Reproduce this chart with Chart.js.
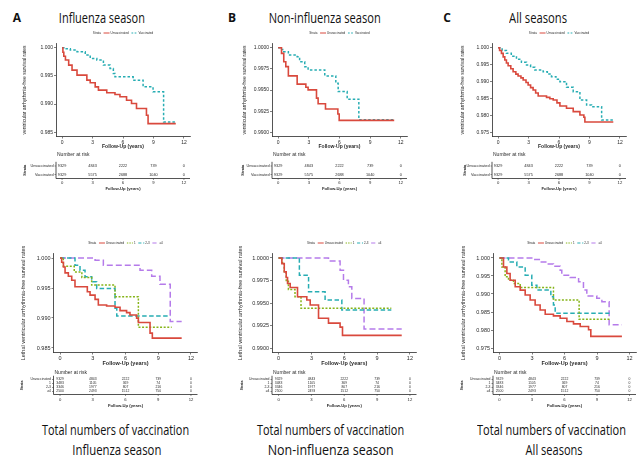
<!DOCTYPE html>
<html>
<head>
<meta charset="utf-8">
<script src="https://cdn.jsdelivr.net/npm/chart.js@4.4.1/dist/chart.umd.min.js"></script>
<style>
  html, body { margin: 0; padding: 0; background: #fff; }
  body { width: 641px; height: 457px; position: relative; overflow: hidden; }
  canvas { position: absolute; }
  .txt { position: absolute; white-space: nowrap; color: #111; font-family: "Open Sans", "Noto Sans", sans-serif;
         transform-origin: center center; line-height: 1; }
  .letter { font-weight: bold; font-size: 12px; }
  .head { font-size: 14px; }
</style>
</head>
<body>
<div class="txt letter" data-x="17" data-y="18">A</div>
<div class="txt head fit" data-x="102" data-y="18" data-w="86">Influenza season</div>
<div class="txt letter" data-x="232" data-y="18">B</div>
<div class="txt head fit" data-x="325" data-y="18" data-w="112">Non-influenza season</div>
<div class="txt letter" data-x="447" data-y="18">C</div>
<div class="txt head fit" data-x="538" data-y="18" data-w="58">All seasons</div>

<div class="txt head fit" data-x="116" data-y="430" data-w="147">Total numbers of vaccination</div>
<div class="txt head fit" data-x="117" data-y="450" data-w="89">Influenza season</div>
<div class="txt head fit" data-x="331" data-y="430" data-w="147">Total numbers of vaccination</div>
<div class="txt head fit" data-x="331" data-y="450" data-w="126">Non-influenza season</div>
<div class="txt head fit" data-x="552" data-y="430" data-w="149">Total numbers of vaccination</div>
<div class="txt head fit" data-x="554" data-y="450" data-w="57">All seasons</div>

<canvas id="pA"></canvas>
<canvas id="pB"></canvas>
<canvas id="pC"></canvas>
<canvas id="pD"></canvas>
<canvas id="pE"></canvas>
<canvas id="pF"></canvas>

<script>
// ---- data ----
const xTicks = [0, 3, 6, 9, 12];
const riskTimes = [0, 3, 6, 9, 12];

const yTicksFlu = [0.985, 0.990, 0.995, 1.000];
const yTicksNon = [0.9900, 0.9925, 0.9950, 0.9975, 1.0000];
const yTicksAll = [0.975, 0.980, 0.985, 0.990, 0.995, 1.000];

const strataTop = ['Unvaccinated', 'Vaccinated'];
const strataBot = ['Unvaccinated', '1', '2-3', '\u22654'];

const riskUnvac = [9329, 4843, 2222, 739, 0];
const riskVac = [9329, 5575, 2688, 1040, 0];
const risk1 = [3483, 1105, 369, 74, 0];
const risk23 = [3346, 1977, 807, 216, 0];
const risk4 = [2500, 2493, 1512, 750, 0];

// [years, survival]
const fluUnvac = [[0,1],[0.08,0.9992],[0.17,0.9985],[0.33,0.99781],[0.65,0.99692],[0.98,0.99603],[1.47,0.99514],[2.44,0.99425],[2.77,0.99378],[3.26,0.99306],[3.58,0.99247],[4.40,0.99200],[5.21,0.99170],[5.70,0.99129],[6.35,0.99069],[6.84,0.99010],[7.33,0.98921],[8.31,0.98803],[8.47,0.98654],[11.2,0.98654]];
const fluVac = [[0,1],[0.3,0.9998],[0.81,0.99959],[1.47,0.99929],[2.28,0.99870],[2.77,0.99810],[3.42,0.99781],[4.07,0.99692],[4.72,0.99632],[5.05,0.99544],[5.21,0.99484],[7.0,0.99425],[7.98,0.99306],[8.96,0.99218],[10.0,0.98684],[11.2,0.98684]];
const nonUnvac = [[0,1],[0.33,0.99933],[0.55,0.99835],[0.75,0.99776],[1.0,0.99667],[1.86,0.99569],[2.71,0.99533],[2.93,0.99502],[3.75,0.99404],[3.91,0.99337],[4.63,0.99275],[5.84,0.99216],[5.97,0.99141],[11.35,0.99141]];
const nonVac = [[0,1],[0.26,0.9998],[0.55,0.99953],[1.0,0.99914],[1.86,0.99894],[2.1,0.99835],[2.6,0.99776],[2.93,0.99737],[4.56,0.99667],[5.64,0.9958],[5.87,0.99482],[6.75,0.99392],[7.89,0.99149],[11.35,0.99149]];
const allUnvac = [[0,1],[0.15,0.9992],[0.33,0.99833],[0.5,0.9973],[0.66,0.99636],[0.82,0.9955],[0.99,0.99469],[1.25,0.9938],[1.48,0.99291],[1.75,0.9922],[1.97,0.99163],[2.25,0.9911],[2.47,0.99045],[2.75,0.9897],[2.96,0.98898],[3.2,0.9882],[3.45,0.9875],[3.7,0.9866],[3.95,0.98573],[4.77,0.98533],[5.1,0.9849],[5.43,0.98455],[5.8,0.9837],[6.09,0.98278],[6.74,0.98209],[7.4,0.9811],[8.06,0.98012],[8.45,0.97943],[8.55,0.97805],[11.35,0.97805]];
const allVac = [[0,1],[0.4,0.9992],[0.82,0.99833],[1.3,0.9975],[1.81,0.99656],[2.3,0.9957],[2.8,0.99488],[3.2,0.9942],[3.62,0.99341],[4.44,0.99291],[4.85,0.9922],[5.26,0.99144],[5.7,0.9907],[6.09,0.98996],[6.74,0.98829],[7.4,0.98701],[8.06,0.98455],[8.72,0.98307],[9.21,0.98258],[10.2,0.97864],[11.35,0.97864]];

const fluDose0 = [[0,1],[0.15,0.9993],[0.31,0.99851],[0.46,0.99752],[0.76,0.99697],[1.07,0.9963],[1.37,0.9952],[2.5,0.99437],[2.75,0.99382],[3.21,0.99311],[3.51,0.99217],[4.27,0.992],[5.04,0.99178],[5.5,0.99123],[6.1,0.9909],[6.41,0.99051],[7.02,0.98996],[7.18,0.98924],[8.25,0.98748],[8.46,0.98665],[11.15,0.98665]];
const fluDose1 = [[0,1],[0.3,0.99862],[1.3,0.99768],[2.0,0.99675],[2.9,0.99548],[5.04,0.99355],[7.18,0.98847],[10.23,0.98847]];
const fluDose23 = [[0,1],[1.37,0.99879],[1.83,0.99796],[2.29,0.99686],[2.9,0.99603],[3.36,0.99493],[5.04,0.99162],[5.2,0.99035],[10.1,0.99035]];
const fluDose4 = [[0,1],[3.21,0.99961],[3.97,0.99879],[7.33,0.99796],[8.4,0.99697],[9.16,0.99564],[10.1,0.98941],[11.15,0.98941]];

const nonDose0 = [[0,1],[0.3,0.99937],[0.52,0.99846],[0.7,0.99783],[0.82,0.99717],[1.06,0.99673],[1.73,0.9957],[2.58,0.99533],[2.89,0.99478],[3.65,0.99331],[4.56,0.99276],[5.62,0.99232],[5.84,0.9914],[11.25,0.9914]];
const nonDose1 = [[0,1],[0.3,0.9995],[0.52,0.9985],[0.7,0.9975],[0.9,0.9965],[1.5,0.9957],[2.05,0.99441],[10.3,0.99441]];
const nonDose23 = [[0,1],[1.9,0.99809],[2.74,0.99625],[4.25,0.99533],[5.78,0.99423],[10.3,0.99423]];
const nonDose4 = [[0,1],[4.56,0.99967],[5.62,0.99864],[5.93,0.99754],[6.38,0.9968],[6.69,0.99551],[7.81,0.9921],[11.25,0.9921]];

const allDose0 = [[0,1],[0.37,0.99752],[0.68,0.99568],[0.98,0.99384],[1.45,0.992],[1.91,0.99108],[2.37,0.98971],[2.83,0.98833],[3.29,0.98695],[3.75,0.98557],[4.22,0.98438],[4.98,0.98392],[5.6,0.98327],[6.22,0.98235],[6.83,0.98171],[7.45,0.98097],[8.22,0.98006],[8.43,0.97822],[11.3,0.97822]];
const allDose1 = [[0,1],[0.22,0.99752],[0.52,0.99476],[0.83,0.99384],[1.29,0.99292],[1.91,0.99182],[4.98,0.98833],[7.35,0.9830],[10.15,0.9830]];
const allDose23 = [[0,1],[0.83,0.9989],[1.6,0.99752],[2.37,0.99522],[2.98,0.99246],[3.45,0.99108],[4.74,0.98925],[4.98,0.98695],[5.14,0.98465],[10.15,0.98465]];
const allDose4 = [[0,1],[3.1,0.9996],[3.75,0.9989],[4.37,0.99835],[4.98,0.9977],[5.6,0.9966],[5.75,0.99522],[6.52,0.99458],[7.3,0.99338],[7.75,0.99108],[8.06,0.98943],[8.98,0.98879],[9.45,0.98787],[10.12,0.98143],[11.3,0.98143]];

// ---- styles ----
const FONT = '"Liberation Sans", Arial, sans-serif';
const INK = '#2a2a2a';
const RED = '#D9493D', TEAL = '#27ADB3', GREEN = '#86B419', PURPLE = '#B57BEA';
const topStyles = [
  { color: RED, width: 1.6, dash: [] },
  { color: TEAL, width: 1.5, dash: [2.5, 2] }
];
const botStyles = [
  { color: RED, width: 1.6, dash: [] },
  { color: GREEN, width: 1.5, dash: [2, 1.6] },
  { color: TEAL, width: 1.5, dash: [4.5, 2.5] },
  { color: PURPLE, width: 1.5, dash: [6, 3] }
];

// legend drawn above the plot, centred on it
const kmLegend = {
  id: 'kmLegend',
  afterDraw(chart, args, o) {
    const ctx = chart.ctx, a = chart.chartArea;
    ctx.save();
    ctx.font = o.size + 'px ' + FONT;
    ctx.textBaseline = 'middle';
    ctx.textAlign = 'left';
    const gap = o.size * 0.9, seg = o.seg, sp = o.size * 0.35;
    const sets = chart.data.datasets;
    let w = ctx.measureText('Strata').width;
    sets.forEach(d => { w += gap + seg + sp + ctx.measureText(d.label).width; });
    let x = (a.left + a.right) / 2 - w / 2;
    ctx.fillStyle = INK;
    ctx.fillText('Strata', x, o.y);
    x += ctx.measureText('Strata').width;
    sets.forEach(d => {
      x += gap;
      ctx.strokeStyle = d.borderColor;
      ctx.lineWidth = 1;
      ctx.setLineDash(d.borderDash.map(v => v * 0.7));
      ctx.beginPath(); ctx.moveTo(x, o.y); ctx.lineTo(x + seg, o.y); ctx.stroke();
      ctx.setLineDash([]);
      x += seg + sp;
      ctx.fillText(d.label, x, o.y);
      x += ctx.measureText(d.label).width;
    });
    ctx.restore();
  }
};

// number-at-risk table under the plot, sharing the x scale
const riskTable = {
  id: 'riskTable',
  afterDraw(chart, args, o) {
    const ctx = chart.ctx, a = chart.chartArea, sx = chart.scales.x;
    ctx.save();
    ctx.fillStyle = INK;
    ctx.strokeStyle = INK;
    ctx.textBaseline = 'middle';
    ctx.font = o.headSize + 'px ' + FONT;
    ctx.textAlign = 'left';
    ctx.fillText('Number at risk', a.left + 1, o.headY);
    ctx.font = o.size + 'px ' + FONT;
    ctx.lineWidth = 0.5;
    o.names.forEach((name, i) => {
      const y = o.rowY[i];
      ctx.textAlign = 'right';
      ctx.fillText(name, a.left - 2.5, y);
      ctx.beginPath(); ctx.moveTo(a.left - 1.5, y); ctx.lineTo(a.left, y); ctx.stroke();
      ctx.textAlign = 'center';
      o.counts[i].forEach((n, j) => ctx.fillText(String(n), sx.getPixelForValue(riskTimes[j]), y));
    });
    ctx.lineWidth = 0.8;
    ctx.beginPath();
    ctx.moveTo(a.left, o.rowY[0] - o.size * 1.1);
    ctx.lineTo(a.left, o.axisY);
    ctx.lineTo(a.right, o.axisY);
    ctx.stroke();
    ctx.lineWidth = 0.5;
    ctx.font = o.tickSize + 'px ' + FONT;
    ctx.textAlign = 'center';
    riskTimes.forEach(t => {
      const px = sx.getPixelForValue(t);
      ctx.beginPath(); ctx.moveTo(px, o.axisY); ctx.lineTo(px, o.axisY + 1.5); ctx.stroke();
      ctx.fillText(String(t), px, o.tickY);
    });
    ctx.font = 'bold ' + o.tickSize + 'px ' + FONT;
    ctx.fillText('Follow-Up (years)', (a.left + a.right) / 2, o.titleY);
    ctx.translate(o.strataX, (o.rowY[0] + o.rowY[o.rowY.length - 1]) / 2);
    ctx.rotate(-Math.PI / 2);
    ctx.font = 'bold ' + o.size + 'px ' + FONT;
    ctx.fillText('Strata', 0, 0);
    ctx.restore();
  }
};

function makePanel(id, g) {
  const cv = document.getElementById(id);
  cv.width = g.w; cv.height = g.h;
  cv.style.left = g.left + 'px';
  cv.style.top = g.top + 'px';
  const ox = g.left, oy = g.top;
  const yLH = g.yTitleSize * 1.2;
  const padL = g.yTitleX - ox - yLH / 2;
  const xLH = g.axisSize * 1.2;
  const xH = g.xTitleY - g.area.b + xLH / 2;
  const padB = oy + g.h - g.area.b - xH;
  const t = g.table;

  new Chart(cv, {
    type: 'line',
    data: {
      datasets: g.series.map((pts, i) => ({
        label: g.names[i],
        data: pts.map(p => ({ x: p[0], y: p[1] })),
        borderColor: g.styles[i].color,
        borderWidth: g.styles[i].width,
        borderDash: g.styles[i].dash,
        stepped: true,
        pointRadius: 0,
        fill: false
      }))
    },
    options: {
      responsive: false,
      animation: false,
      devicePixelRatio: 1,
      layout: { padding: { left: padL, top: g.area.t - oy, right: ox + g.w - g.area.r, bottom: padB } },
      plugins: {
        legend: { display: false },
        tooltip: { enabled: false },
        kmLegend: { y: g.legendY - oy, size: g.legendSize, seg: g.legendSeg },
        riskTable: {
          names: g.names, counts: g.counts,
          headY: t.headY - oy, headSize: t.headSize,
          rowY: t.rowY.map(v => v - oy), size: t.size,
          axisY: t.axisY - oy, tickY: t.tickY - oy, titleY: t.titleY - oy, tickSize: t.tickSize,
          strataX: t.strataX - ox
        }
      },
      scales: {
        x: {
          type: 'linear', min: -0.6, max: 12.6,
          afterFit: s => { s.height = xH; },
          afterBuildTicks: s => { s.ticks = xTicks.map(v => ({ value: v })); },
          ticks: { font: { family: FONT, size: g.axisSize }, color: INK, padding: 1, maxRotation: 0, autoSkip: false,
                   callback: v => String(v) },
          grid: { display: true, drawOnChartArea: false, drawTicks: true, tickLength: 2, color: INK, lineWidth: 0.6 },
          border: { display: true, color: INK, width: 0.8 },
          title: { display: true, text: 'Follow-Up (years)', color: INK, padding: 0,
                   font: { family: FONT, size: g.axisSize, weight: 'bold' } }
        },
        y: {
          type: 'linear', min: g.yMin, max: g.yMax,
          afterFit: s => { s.width = g.area.l - ox - padL; },
          afterBuildTicks: s => { s.ticks = g.yTicks.map(v => ({ value: v })); },
          ticks: { font: { family: FONT, size: g.axisSize }, color: INK, padding: 1, autoSkip: false,
                   callback: v => v.toFixed(g.yDigits) },
          grid: { display: true, drawOnChartArea: false, drawTicks: true, tickLength: 2, color: INK, lineWidth: 0.6 },
          border: { display: true, color: INK, width: 0.8 },
          title: { display: true, text: g.yTitle, color: INK, padding: 0,
                   font: { family: FONT, size: g.yTitleSize } }
        }
      }
    },
    plugins: [kmLegend, riskTable]
  });
}

const topTable = { headY: 155, headSize: 5, rowY: [166, 174.5], size: 3.8, axisY: 178.5, tickY: 183, titleY: 189, tickSize: 4.2 };
const botTable = { headY: 372.5, headSize: 5, rowY: [379.5, 383.5, 387.5, 391.5], size: 3.4, axisY: 394.5, tickY: 399.5, titleY: 406, tickSize: 4.2 };
const topTitle = 'ventricular arrhythmia-free survival rates';
const botTitle = 'Lethal ventricular arrhythmia-free survival rates';

const topBase = { top: 28, h: 168, axisSize: 5, yTitleSize: 5, xTitleY: 147, legendY: 33, legendSize: 3, legendSeg: 6,
                  names: strataTop, styles: topStyles, counts: [riskUnvac, riskVac], yTitle: topTitle };
const botBase = { top: 236, h: 176, axisSize: 5.5, yTitleSize: 5.5, xTitleY: 363.5, legendY: 243, legendSize: 3, legendSeg: 6,
                  names: strataBot, styles: botStyles, counts: [riskUnvac, risk1, risk23, risk4], yTitle: botTitle };

makePanel('pA', Object.assign({}, topBase, {
  left: 0, w: 214, area: { l: 56, t: 43.5, r: 190, b: 136.5 }, yTitleX: 25,
  yMin: 0.98425, yMax: 1.00075, yTicks: yTicksFlu, yDigits: 3,
  series: [fluUnvac, fluVac], table: Object.assign({ strataX: 25 }, topTable)
}));
makePanel('pB', Object.assign({}, topBase, {
  left: 214, w: 214, area: { l: 272, t: 43.5, r: 407, b: 136.5 }, yTitleX: 245,
  yMin: 0.9895, yMax: 1.0005, yTicks: yTicksNon, yDigits: 4,
  series: [nonUnvac, nonVac], table: Object.assign({ strataX: 243 }, topTable)
}));
makePanel('pC', Object.assign({}, topBase, {
  left: 428, w: 213, area: { l: 492, t: 43.5, r: 626, b: 136.5 }, yTitleX: 463,
  yMin: 0.97375, yMax: 1.00125, yTicks: yTicksAll, yDigits: 3,
  series: [allUnvac, allVac], table: Object.assign({ strataX: 465 }, topTable)
}));
makePanel('pD', Object.assign({}, botBase, {
  left: 0, w: 214, area: { l: 53.5, t: 253.5, r: 197.5, b: 352.5 }, yTitleX: 23,
  yMin: 0.98425, yMax: 1.00075, yTicks: yTicksFlu, yDigits: 3,
  series: [fluDose0, fluDose1, fluDose23, fluDose4], table: Object.assign({ strataX: 22 }, botTable)
}));
makePanel('pE', Object.assign({}, botBase, {
  left: 214, w: 214, area: { l: 272, t: 253.5, r: 416.5, b: 352.5 }, yTitleX: 240,
  yMin: 0.9895, yMax: 1.0005, yTicks: yTicksNon, yDigits: 4,
  series: [nonDose0, nonDose1, nonDose23, nonDose4], table: Object.assign({ strataX: 242 }, botTable)
}));
makePanel('pF', Object.assign({}, botBase, {
  left: 428, w: 213, area: { l: 493, t: 253.5, r: 636, b: 352.5 }, yTitleX: 463,
  yMin: 0.97375, yMax: 1.00125, yTicks: yTicksAll, yDigits: 3,
  series: [allDose0, allDose1, allDose23, allDose4], table: Object.assign({ strataX: 462 }, botTable)
}));

// place headings; squeeze to the measured widths of the original lettering
document.querySelectorAll('.txt').forEach(el => {
  const r = el.getBoundingClientRect();
  const k = el.dataset.w ? (+el.dataset.w / r.width) : 1;
  el.style.left = (+el.dataset.x - r.width / 2) + 'px';
  el.style.top = (+el.dataset.y - r.height / 2) + 'px';
  el.style.transform = 'scaleX(' + k.toFixed(3) + ')';
});
</script>
</body>
</html>
